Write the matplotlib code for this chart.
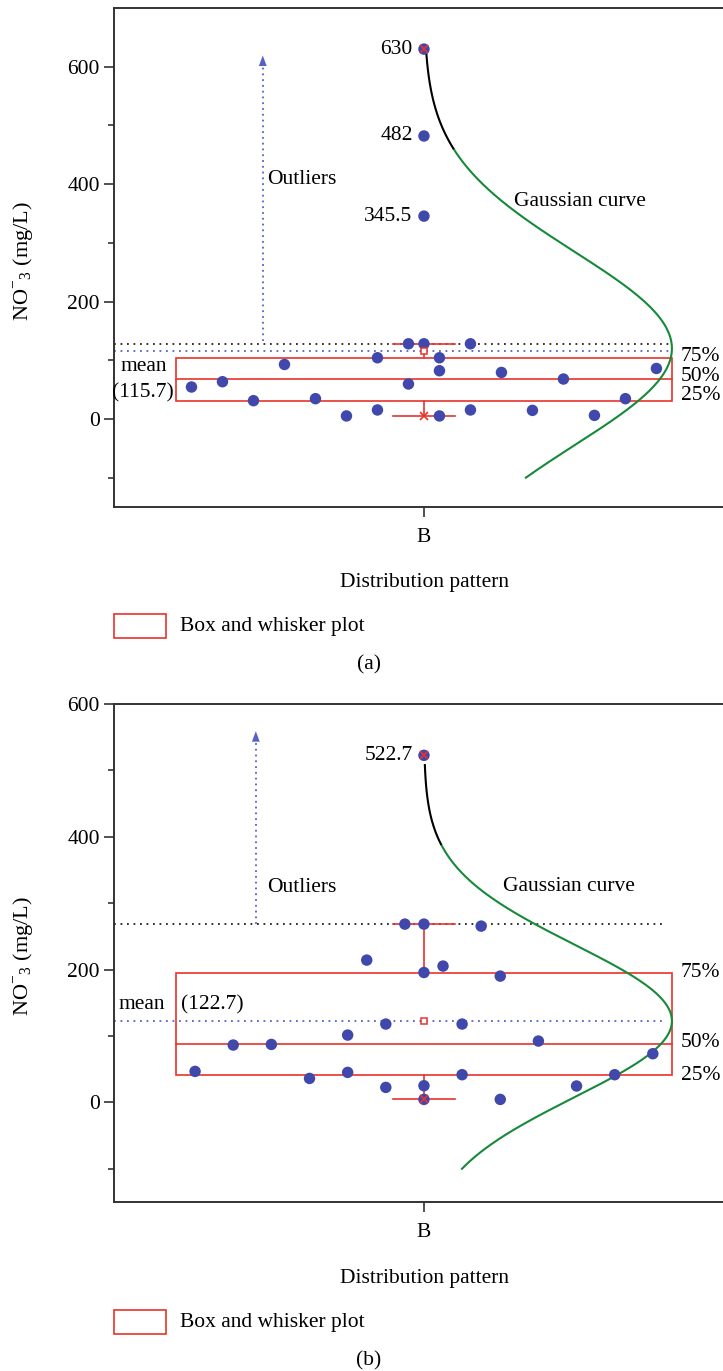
import numpy as np
import matplotlib
matplotlib.use("Agg")
import matplotlib.pyplot as plt
from matplotlib.patches import Rectangle

plt.rcParams['font.family'] = ['Liberation Serif', 'DejaVu Serif']
plt.rcParams['mathtext.fontset'] = 'custom'
plt.rcParams['mathtext.rm'] = 'Liberation Serif'

# ---------------- data ----------------
# panel (a): NO3- concentrations and the jitter column of each point
a_values = [54.4, 63.4, 31.1, 92.8, 34.5, 5.1, 104.2, 15.3, 128, 59.5,
            630, 482, 345.5, 128, 104.2, 82.1, 5.1, 128, 15.3, 79.2,
            14.6, 68, 6.1, 34.5, 86]
a_columns = [-7.5, -6.5, -5.5, -4.5, -3.5, -2.5, -1.5, -1.5, -0.5, -0.5,
             0, 0, 0, 0, 0.5, 0.5, 0.5, 1.5, 1.5, 2.5,
             3.5, 4.5, 5.5, 6.5, 7.5]
a_box = dict(q1=31.1, median=67.3, q3=103.6, lo=5.1, hi=128, mean=115.7, max=630)
a_outliers = [630, 482, 345.5]
a_outlier_labels = ["630", "482", "345.5"]
a_gauss = dict(center=120, sd=165, bottom=-100, top=622, black_from=460)

# panel (b)
b_values = [46.7, 86.4, 87.3, 36.1, 101.4, 45.2, 214.3, 118, 22.6, 268.5,
            522.7, 268.5, 195.6, 25.1, 4.5, 205.3, 118, 41.7, 265.5, 190.2,
            4.5, 92.4, 24.7, 41.7, 73.3]
b_columns = [-6, -5, -4, -3, -2, -2, -1.5, -1, -1, -0.5,
             0, 0, 0, 0, 0, 0.5, 1, 1, 1.5, 2,
             2, 3, 4, 5, 6]
b_box = dict(q1=41.7, median=87.3, q3=195.4, lo=4.5, hi=268.5, mean=122.7, max=522.7)
b_outliers = [522.7]
b_outlier_labels = ["522.7"]
b_gauss = dict(center=122.7, sd=115, bottom=-100, top=508, black_from=388)

category = "B"
percent_labels = ["75%", "50%", "25%"]

# ---------------- styles ----------------
W, H = 723, 1371
DOT = '#4148AC'
RED = '#E8342C'
GREEN = '#16893A'
ARROW = '#5560C8'
SPINE = '#333333'
FS = 15.5
YLABEL = 'NO$^{-}$$_{3}$ (mg/L)'

fig = plt.figure(figsize=(W / 100, H / 100), dpi=100)


def fx(px):
    return px / W


def fy(py):
    return 1 - py / H


def panel(top_px, bot_px, ylim, values, columns, col_unit, box, outliers,
          outlier_labels, gauss, arrow, mean_pos, line_end,
          out_label_pos, gauss_label_pos, pct_pos, ylabel_y):
    ax = fig.add_axes([fx(114), fy(bot_px), fx(723 - 114), (bot_px - top_px) / H])
    x0 = 1.0
    ax.set_xlim(0.375, 1.603)
    ax.set_ylim(*ylim)
    ax.spines['right'].set_visible(False)
    for side in ['left', 'bottom', 'top']:
        ax.spines[side].set_color(SPINE)
        ax.spines[side].set_linewidth(1.4)

    ax.set_yticks([0, 200, 400, 600])
    ax.set_yticks([-100, 100, 300, 500], minor=True)
    ax.set_xticks([x0], [category])
    ax.tick_params(axis='both', which='major', direction='out', length=7.2,
                   width=1.2, color=SPINE, labelsize=FS, pad=3)
    ax.tick_params(axis='y', which='minor', direction='out', length=4.3,
                   width=1.2, color=SPINE)
    ax.tick_params(axis='x', pad=8)

    half = 0.5
    # dotted reference lines: upper whisker and mean
    ax.plot([0.375, line_end], [box['hi']] * 2, color='#222222', lw=1.3,
            ls=(0, (1, 2.6)), zorder=2)
    ax.plot([0.375, line_end], [box['mean']] * 2, color=ARROW, lw=1.3,
            ls=(0, (1, 2.6)), zorder=2)

    # box
    ax.add_patch(Rectangle((x0 - half, box['q1']), 2 * half, box['q3'] - box['q1'],
                           fill=False, edgecolor=RED, lw=1.2, zorder=3))
    ax.plot([x0 - half, x0 + half], [box['median']] * 2, color=RED, lw=1.2, zorder=3)
    # whiskers with caps
    cap = 0.0625
    ax.plot([x0, x0], [box['q3'], box['hi']], color=RED, lw=1.2, zorder=3)
    ax.plot([x0, x0], [box['q1'], box['lo']], color=RED, lw=1.2, zorder=3)
    ax.plot([x0 - cap, x0 + cap], [box['hi']] * 2, color=RED, lw=1.2, zorder=3)
    ax.plot([x0 - cap, x0 + cap], [box['lo']] * 2, color=RED, lw=1.2, zorder=3)

    # points
    xs = x0 + np.array(columns) * col_unit
    ax.scatter(xs, values, s=68, color=DOT, edgecolors='none', zorder=4)

    # mean, min and max markers
    ax.plot([x0], [box['mean']], marker='s', ms=5, mfc='white', mec=RED, mew=1.1,
            zorder=5)
    ax.plot([x0, x0], [box['lo'], box['max']], ls='none', marker='x', ms=6,
            mec=RED, mew=1.2, zorder=5)

    # Gaussian curve along the value axis
    yy = np.linspace(gauss['bottom'], gauss['top'], 400)
    xx = x0 + half * np.exp(-(yy - gauss['center']) ** 2 / (2 * gauss['sd'] ** 2))
    lower = yy <= gauss['black_from']
    ax.plot(xx[lower], yy[lower], color=GREEN, lw=1.5, zorder=3)
    ax.plot(xx[~lower], yy[~lower], color='black', lw=1.5, zorder=3)

    # outlier arrow
    ax.plot([arrow[0]] * 2, [arrow[1], arrow[2] - 15], color=ARROW, lw=1.3,
            ls=(0, (1, 2.2)), zorder=2)
    ax.annotate('', xy=(arrow[0], arrow[2]), xytext=(arrow[0], arrow[2] - 30),
                arrowprops=dict(arrowstyle='-|>,head_length=0.75,head_width=0.28',
                                color=ARROW, lw=0.01, shrinkA=0, shrinkB=0))

    # texts
    for v, t in zip(outliers, outlier_labels):
        ax.text(x0 - 0.023, v, t, ha='right', va='center', fontsize=FS)
    ax.text(out_label_pos[0], out_label_pos[1], 'Outliers', ha='left',
            va='center', fontsize=FS)
    ax.text(gauss_label_pos[0], gauss_label_pos[1], 'Gaussian curve', ha='left',
            va='center', fontsize=FS)
    for (yv, t) in zip(pct_pos, percent_labels):
        ax.text(1.5175, yv, t, ha='left', va='center', fontsize=FS, clip_on=False)
    for (xv, yv, t, ha) in mean_pos:
        ax.text(xv, yv, t, ha=ha, va='center', fontsize=FS)

    fig.text(fx(23), fy(ylabel_y), YLABEL, rotation=90,
             ha='center', va='center', fontsize=FS + 0.5)
    return ax


# panel (a)
panel(8, 507, (-150, 700), a_values, a_columns, 0.5 / 8, a_box, a_outliers,
      a_outlier_labels, a_gauss, (0.675, 132, 619),
      [(0.434, 89, 'mean', 'center'), (0.434, 45, '(115.7)', 'center')],
      1.5, (0.684, 408), (1.181, 370), (107, 73, 40), 261)

# panel (b)
panel(704, 1202, (-150, 600), b_values, b_columns, 0.5 / 6.5, b_box, b_outliers,
      b_outlier_labels, b_gauss, (0.661, 268, 559),
      [(0.385, 147, 'mean', 'left'), (0.5095, 147, '(122.7)', 'left')],
      1.485, (0.684, 323), (1.159, 325), (195.5, 90, 41), 956)

# axis titles, legends and captions
for y_title, y_leg, y_cap, cap in [(583, 626, 665, '(a)'), (1279, 1322, 1361, '(b)')]:
    fig.text(fx(424), fy(y_title), 'Distribution pattern', ha='center',
             va='center', fontsize=FS)
    fig.add_artist(Rectangle((fx(114), fy(y_leg + 12)), fx(52), 24 / H,
                             transform=fig.transFigure, fill=False,
                             edgecolor=RED, lw=1.2))
    fig.text(fx(180), fy(y_leg), 'Box and whisker plot', ha='left',
             va='center', fontsize=FS)
    fig.text(fx(369), fy(y_cap), cap, ha='center', va='center', fontsize=FS)

fig.savefig('out.png', dpi=100)
